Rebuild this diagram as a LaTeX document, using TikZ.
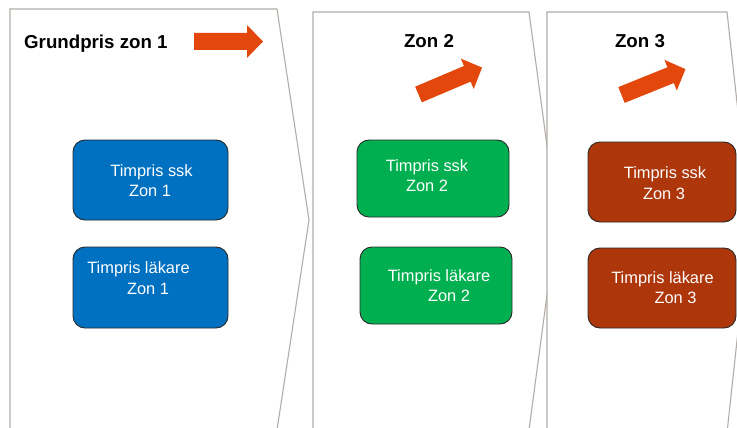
\documentclass[tikz,border=0pt]{standalone}
\usepackage{fontspec}
\setmainfont{Liberation Sans}
\definecolor{panelgray}{HTML}{B3ADA9}
\definecolor{zblue}{HTML}{0070C0}
\definecolor{zgreen}{HTML}{00B050}
\definecolor{zred}{HTML}{AD360A}
\definecolor{zorange}{HTML}{E4470B}
\definecolor{zborder}{HTML}{2A2A2A}
\begin{document}
\begin{tikzpicture}[x=1pt,y=-1pt,
  panel/.style={draw=panelgray, line width=1.1pt, line join=miter},
  zbox/.style={draw=zborder, line width=0.9pt, rounded corners=12pt, minimum width=#1, minimum height=78pt, inner sep=0pt},
  zbox/.default=154pt,
  lbl/.style={text=white, font=\fontsize{16.4}{20}\selectfont, inner sep=0pt, anchor=base},
  ttl/.style={text=black, font=\bfseries\fontsize{18.7}{22}\selectfont, inner sep=0pt, anchor=base},
  zarrow/.style={fill=zorange}
]
\useasboundingbox (0,0) rectangle (737,428);
\clip (0,0) rectangle (737,428);
\fill[white] (0,0) rectangle (737,428);

% panels
\draw[panel] (10,445) -- (10,9) -- (277,9) -- (309,220) -- (274.7,445);
\draw[panel] (313,445) -- (313,12) -- (529,12) -- (557,220) -- (527,445);
\draw[panel, fill=white] (547,445) -- (547,12) -- (727,12) -- (750,220) -- (725.7,445);

% titles
\node[ttl, anchor=base west] (t1) at (24,49) {Grundpris zon 1};
\node[ttl] (t2) at (429,48) {Zon 2};
\node[ttl] (t3) at (640,48) {Zon 3};

% arrows
\begin{scope}[shift={(194,41.5)}]
  \fill[zarrow] (0,-8.5) -- (53,-8.5) -- (53,-16.5) -- (69,0) -- (53,16.5) -- (53,8.5) -- (0,8.5) -- cycle;
\end{scope}
\begin{scope}[shift={(418.5,94.5)}, rotate=23]
  \fill[zarrow] (0,-8.5) -- (53,-8.5) -- (53,-16.5) -- (69,0) -- (53,16.5) -- (53,8.5) -- (0,8.5) -- cycle;
\end{scope}
\begin{scope}[shift={(621.5,95)}, rotate=22]
  \fill[zarrow] (0,-8.5) -- (53,-8.5) -- (53,-16.5) -- (69,0) -- (53,16.5) -- (53,8.5) -- (0,8.5) -- cycle;
\end{scope}

% boxes zone 1
\node[zbox=155pt, fill=zblue, minimum height=80pt] (b1) at (150.5,180) {};
\node[zbox=155pt, fill=zblue, minimum height=81pt] (b2) at (150.5,287.5) {};
% boxes zone 2
\node[zbox=152pt, fill=zgreen, minimum height=77pt] (g1) at (433,178.5) {};
\node[zbox=152pt, fill=zgreen, minimum height=77pt] (g2) at (436,285.5) {};
% boxes zone 3
\node[zbox=148pt, fill=zred, minimum height=80pt] (r1) at (662,182) {};
\node[zbox=148pt, fill=zred, minimum height=80pt] (r2) at (662,288) {};

% labels
\node[lbl] (b1a) at (151.5,176.7) {Timpris ssk};
\node[lbl] (b1b) at (150,196.7) {Zon 1};
\node[lbl] (b2a) at (138.5,273) {Timpris läkare};
\node[lbl] (b2b) at (148,294) {Zon 1};

\node[lbl] (g1a) at (427,171.7) {Timpris ssk};
\node[lbl] (g1b) at (427,191.7) {Zon 2};
\node[lbl] (g2a) at (439,281.7) {Timpris läkare};
\node[lbl] (g2b) at (449,301.7) {Zon 2};

\node[lbl] (r1a) at (665,178) {Timpris ssk};
\node[lbl] (r1b) at (664,199) {Zon 3};
\node[lbl] (r2a) at (662.5,283) {Timpris läkare};
\node[lbl] (r2b) at (675.5,303) {Zon 3};
\end{tikzpicture}
\end{document}
